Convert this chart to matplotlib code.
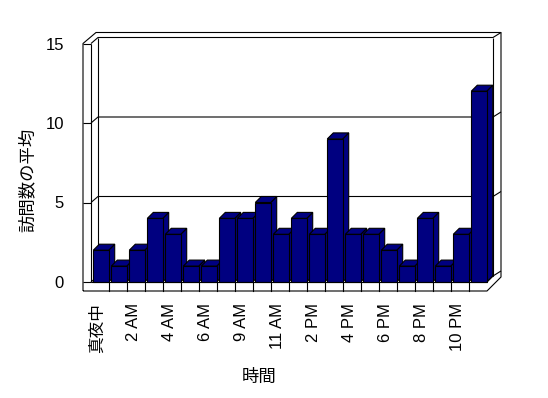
import matplotlib
matplotlib.use('Agg')
import matplotlib.pyplot as plt
from matplotlib.patches import Polygon
from matplotlib.transforms import ScaledTranslation

# ---- data ----
categories = ['真夜中', '1 AM', '2 AM', '3 AM', '4 AM', '5 AM', '6 AM', '7 AM',
              '9 AM', '10 AM', '11 AM', '12 PM', '2 PM', '3 PM', '4 PM', '5 PM',
              '6 PM', '7 PM', '8 PM', '9 PM', '10 PM', '11 PM']
values = [2, 1, 2, 4, 3, 1, 1, 4, 4, 5, 3, 4, 3, 9, 3, 3, 2, 1, 4, 1, 3, 12]
tick_labels = ['真夜中', '2 AM', '4 AM', '6 AM', '9 AM', '11 AM',
               '2 PM', '4 PM', '6 PM', '8 PM', '10 PM']
y_ticks = [0, 5, 10, 15]
x_title = '時間'
y_title = '訪問数の平均'

# ---- style / layout ----
plt.rcParams['font.family'] = ['Liberation Sans', 'Noto Sans CJK JP']
NAVY = '#000080'
LW = 0.8
W, H = 548, 398
fig = plt.figure(figsize=(W / 100, H / 100), dpi=100)
L_PX, R_PX, B_PX, T_PX = 83, 501, 291, 34
ax = fig.add_axes([L_PX / W, 1 - B_PX / H, (R_PX - L_PX) / W, (B_PX - T_PX) / H])

CX0, PXC = 101, 18.0     # pixel of first category centre, px per category
Y0, PXV = 282, 15.9      # pixel of value 0, px per unit


def dx(px):
    return (px - CX0) / PXC


def dy(py):
    return (Y0 - py) / PXV


def vy(v):  # value -> pixel y
    return Y0 - v * PXV


ax.set_xlim(dx(L_PX), dx(R_PX))
ax.set_ylim(dy(B_PX), dy(T_PX))
for s in ax.spines.values():
    s.set_visible(False)
ax.patch.set_visible(False)


def line(pts, z=1):
    ax.plot([dx(p[0]) for p in pts], [dy(p[1]) for p in pts], color='k',
            lw=LW, zorder=z, clip_on=False, solid_capstyle='butt')


top = max(y_ticks)
yt = vy(top)
# outer silhouette
line([(83, 291), (83, yt), (96, yt - 11), (501, yt - 11), (501, 277),
      (487, 291), (83, 291)], z=20)
# left wall inner edge
line([(91, yt), (91, 282)], z=20)
# back wall left / right inner edges
line([(98, yt - 6), (98, 276)], z=1)
line([(493, yt - 6), (493, 276)], z=1)
# floor
line([(91, 282), (487, 282)], z=20)
line([(487, 282), (493, 276)], z=1)
line([(98, 276), (493, 276)], z=1)

# grid lines on walls (with depth diagonals)
for v in y_ticks:
    y = vy(v)
    line([(91, y), (98, y - 6), (493, y - 6), (501, y - 11)], z=1)

# bars (3D look)
BAR_W = 15.4 / PXC
BDX = 6 / PXC
BDY = 6 / PXV
xs = list(range(len(values)))
for i, v in zip(xs, values):
    r = i + BAR_W / 2
    l = i - BAR_W / 2
    topf = Polygon([(l, v), (r, v), (r + BDX, v + BDY), (l + BDX, v + BDY)],
                   closed=True, facecolor=NAVY, edgecolor='k', lw=LW,
                   zorder=5 + i * 0.01)
    side = Polygon([(r, 0), (r, v), (r + BDX, v + BDY), (r + BDX, BDY)],
                   closed=True, facecolor=NAVY, edgecolor='k', lw=LW,
                   zorder=5 + i * 0.01)
    ax.add_patch(side)
    ax.add_patch(topf)
ax.bar(xs, values, width=BAR_W, color=NAVY, edgecolor='k', linewidth=LW,
       zorder=10)

# floor front cell dividers
for i in xs[:-1]:
    xr = i + BAR_W / 2
    ax.plot([xr, xr], [dy(282), dy(291)], color='k', lw=LW, zorder=20,
            clip_on=False)

# ticks
ax.set_yticks(y_ticks)
ax.set_yticklabels([str(t) for t in y_ticks])
ax.tick_params(axis='y', direction='in', length=8 * 0.72, width=LW,
               pad=13.7, labelsize=12, color='k')
ax.set_xticks(xs[::2])
ax.set_xticklabels(tick_labels, rotation=90)
ax.tick_params(axis='x', length=0, pad=8.6, labelsize=12)
off = ScaledTranslation(-4 / 100, 0, fig.dpi_scale_trans)
for lab in ax.get_xticklabels():
    lab.set_transform(lab.get_transform() + off)

ax.set_ylabel(y_title, fontsize=12.5, va='center', ha='center')
ax.yaxis.set_label_coords((27 - L_PX) / (R_PX - L_PX), (B_PX - 180) / (B_PX - T_PX))
ax.set_xlabel(x_title, fontsize=12.5, va='center', ha='center')
ax.xaxis.set_label_coords((259 - L_PX) / (R_PX - L_PX), (B_PX - 377) / (B_PX - T_PX))

fig.savefig('out.png', dpi=100)
